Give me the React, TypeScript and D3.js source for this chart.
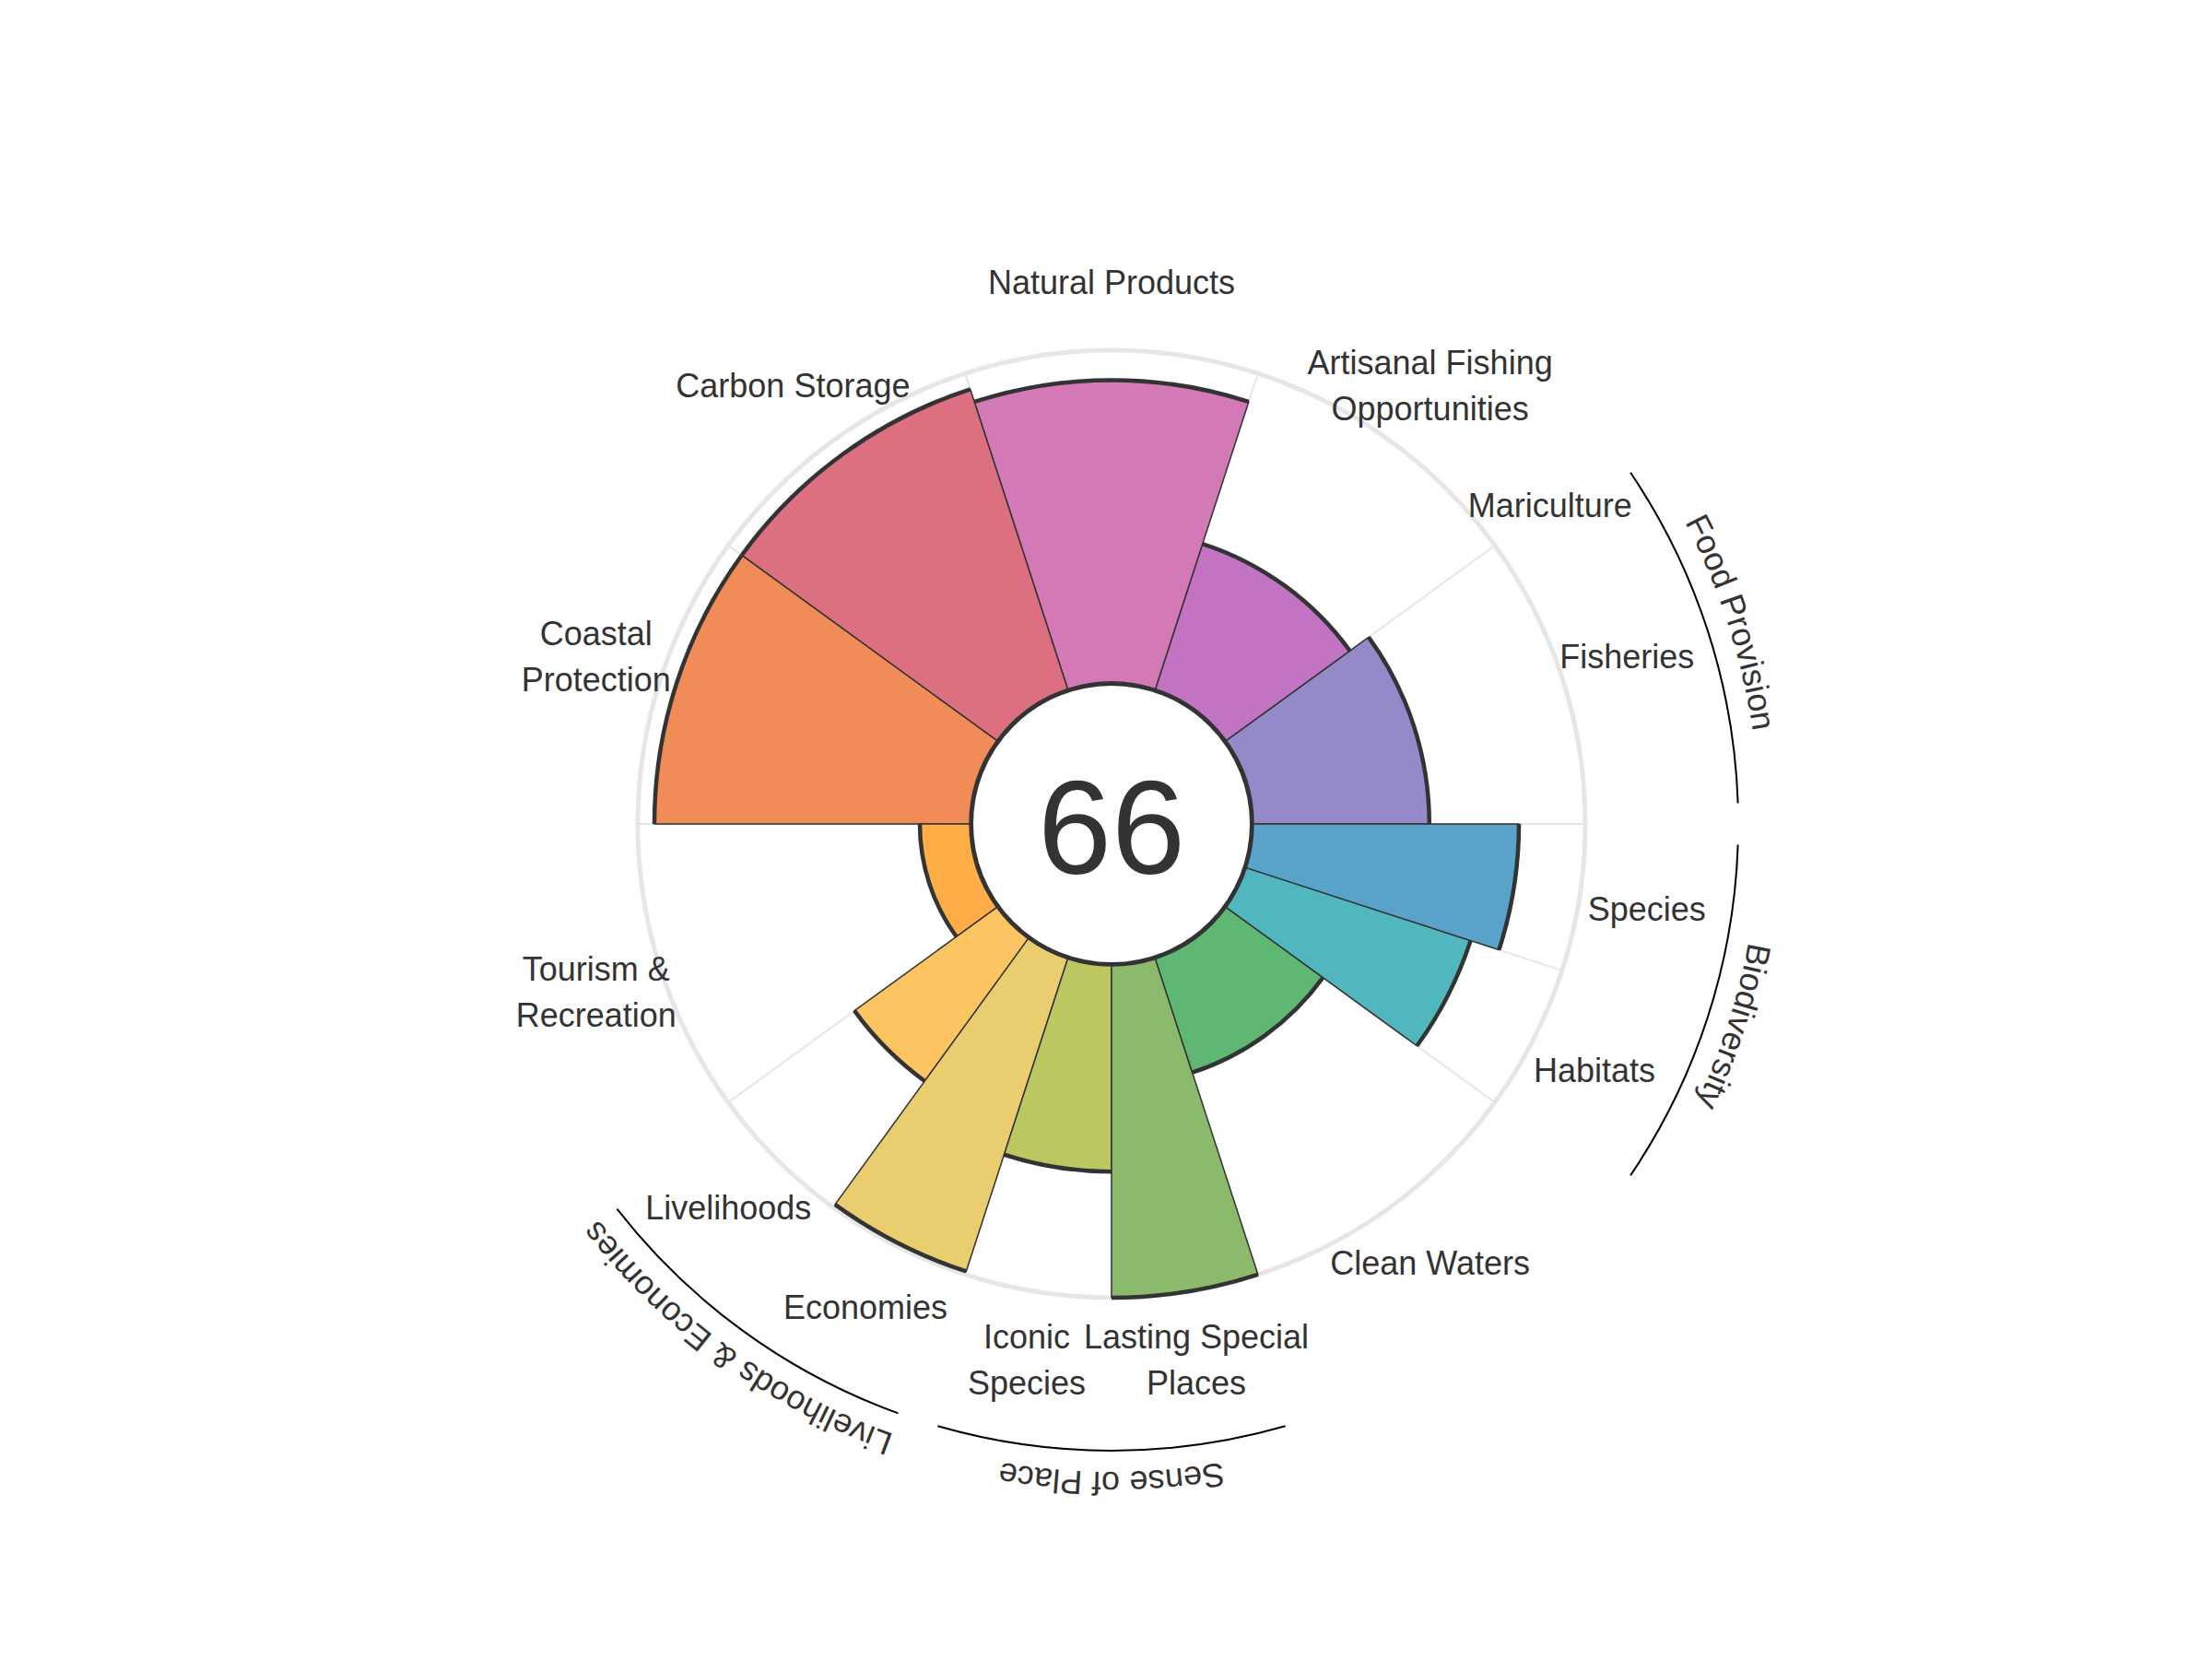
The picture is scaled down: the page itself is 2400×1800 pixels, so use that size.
import React, { useEffect, useRef } from 'react';
import { select, scaleLinear, arc, sum } from 'd3';

const width = 2400;
const height = 1800;
const cx = 1206;
const cy = 894;
const innerRadius = 154;
const outerRadius = 514;

// petals, counter-clockwise from 3 o'clock
const goals = [
  "Fisheries", "Mariculture", "Artisanal Fishing\nOpportunities", "Natural Products",
  "Carbon Storage", "Coastal\nProtection", "Tourism &\nRecreation", "Livelihoods",
  "Economies", "Iconic\nSpecies", "Lasting Special\nPlaces", "Clean Waters", "Habitats", "Species"
];
const scores = [53, 0, 46, 91, 95, 95, 15, 53, 99, 62, 100, 36, 71, 80];
const weights = [2, 0, 2, 2, 2, 2, 2, 1, 1, 1, 1, 2, 1, 1];
const colors = [
  "#9489c9", "#a97fc6", "#c274c2", "#d279b6", "#dc6f80", "#f18b57", "#ffae47",
  "#fdc561", "#e9cd6e", "#bcc762", "#8bba6c", "#5eb873", "#4fb7bd", "#59a3ca"
];
const indexScore = "66";

const groupNames = ["Food Provision", "Biodiversity", "Sense of Place", "Livelihoods & Economies"];
const groupMembers = [[0, 1], [12, 13], [9, 10], [7, 8]];

const toRad = (d: number) => (d * Math.PI) / 180;

const App = () => {
  const svgRef = useRef<SVGSVGElement>(null);

  useEffect(() => {
    const svg = select(svgRef.current);
    svg.selectAll("*").remove();

    const totalW = sum(weights);
    const ang = scaleLinear().domain([0, totalW]).range([0, 360]);
    const r = scaleLinear().domain([0, 100]).range([innerRadius, outerRadius]);

    let acc = 0;
    const petals = goals.map((g, i) => {
      const start = ang(acc);
      acc += weights[i];
      const end = ang(acc);
      return { label: g, score: scores[i], color: colors[i], start, end, mid: (start + end) / 2, w: weights[i] };
    });

    const root = svg.append("g").attr("transform", `translate(${cx},${cy})`);

    // grid
    const bounds = Array.from(new Set(petals.map(p => p.start % 360)));
    root.append("g")
      .selectAll("line")
      .data(bounds)
      .join("line")
        .attr("x1", d => innerRadius * Math.cos(toRad(d)))
        .attr("y1", d => -innerRadius * Math.sin(toRad(d)))
        .attr("x2", d => outerRadius * Math.cos(toRad(d)))
        .attr("y2", d => -outerRadius * Math.sin(toRad(d)))
        .attr("stroke", "#e6e6e6")
        .attr("stroke-width", 2);
    root.append("circle")
      .attr("r", outerRadius)
      .attr("fill", "none")
      .attr("stroke", "#e6e6e6")
      .attr("stroke-width", 5);

    const drawn = petals.filter(p => p.w > 0);

    const petalArc = arc<any>()
      .innerRadius(innerRadius)
      .outerRadius(d => r(d.score))
      .startAngle(d => Math.PI / 2 - toRad(d.end))
      .endAngle(d => Math.PI / 2 - toRad(d.start));

    root.append("g")
      .selectAll("path")
      .data(drawn)
      .join("path")
        .attr("d", petalArc)
        .attr("fill", d => d.color)
        .attr("stroke", "#333")
        .attr("stroke-width", 1.5)
        .attr("stroke-linejoin", "round");

    // thick outer edge of each petal
    const edgeArc = arc<any>()
      .innerRadius(d => r(d.score))
      .outerRadius(d => r(d.score))
      .startAngle(d => Math.PI / 2 - toRad(d.end))
      .endAngle(d => Math.PI / 2 - toRad(d.start));
    root.append("g")
      .selectAll("path")
      .data(drawn)
      .join("path")
        .attr("d", edgeArc)
        .attr("fill", "none")
        .attr("stroke", "#333")
        .attr("stroke-width", 4.5);

    root.append("circle")
      .attr("r", 152)
      .attr("fill", "#fff")
      .attr("stroke", "#333")
      .attr("stroke-width", 4);

    root.append("text")
      .attr("y", 54)
      .attr("text-anchor", "middle")
      .attr("fill", "#333")
      .style("font-size", "144px")
      .text(indexScore);

    // petal labels
    const labelR = 588;
    const lineH = 50;
    const labels = root.append("g")
      .selectAll("text")
      .data(petals)
      .join("text")
        .attr("text-anchor", "middle")
        .attr("fill", "#333")
        .style("font-size", "36px")
        .attr("transform", d => `translate(${labelR * Math.cos(toRad(d.mid))},${-labelR * Math.sin(toRad(d.mid))})`);
    labels.each(function (d: any) {
      const lines = d.label.split("\n");
      const t = select(this);
      lines.forEach((ln: string, k: number) => {
        t.append("tspan")
          .attr("x", 0)
          .attr("y", (k - (lines.length - 1) / 2) * lineH + 13)
          .text(ln);
      });
    });

    // goal group arcs and curved labels
    const groupR = 680;
    const groupTextR = 703;
    const pad = 1.9;
    groupNames.forEach((name, gi) => {
      const mem = groupMembers[gi].map(i => petals[i]);
      const a0 = Math.min(...mem.map(p => p.start)) + pad;
      const a1 = Math.max(...mem.map(p => p.end)) - pad;
      const pt = (rad: number, a: number) => [rad * Math.cos(toRad(a)), -rad * Math.sin(toRad(a))];
      const [x1, y1] = pt(groupR, a1);
      const [x2, y2] = pt(groupR, a0);
      root.append("path")
        .attr("d", `M${x1},${y1} A${groupR},${groupR} 0 0 1 ${x2},${y2}`)
        .attr("fill", "none")
        .attr("stroke", "#000")
        .attr("stroke-width", 2);
      const [tx1, ty1] = pt(groupTextR, a1 + 20);
      const [tx2, ty2] = pt(groupTextR, a0 - 20);
      const id = `goal-path-${gi}`;
      root.append("path")
        .attr("id", id)
        .attr("d", `M${tx1},${ty1} A${groupTextR},${groupTextR} 0 0 1 ${tx2},${ty2}`)
        .attr("fill", "none")
        .attr("stroke", "none");
      root.append("text")
        .attr("fill", "#333")
        .style("font-size", "36px")
        .append("textPath")
          .attr("href", `#${id}`)
          .attr("startOffset", "50%")
          .attr("text-anchor", "middle")
          .text(name);
    });
  }, []);

  return (
    <svg
      ref={svgRef}
      width={width}
      height={height}
      style={{ position: "absolute", left: 0, top: 0, background: "#fff", fontFamily: "'Liberation Sans', Arial, sans-serif" }}
    />
  );
};

export default App;
